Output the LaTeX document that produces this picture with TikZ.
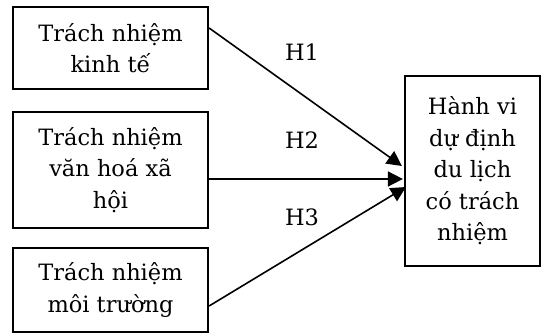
\documentclass[tikz,border=0pt]{standalone}
\usepackage{fontspec}
\setmainfont{DejaVu Serif}
\usetikzlibrary{arrows.meta}
\tikzset{
  box/.style={draw, line width=2.2pt, align=center, inner sep=0pt,
    font=\fontsize{22.5}{31.5}\selectfont},
  link/.style={line width=1.6pt, -{Triangle[length=15pt,width=15pt]}},
  hlabel/.style={font=\fontsize{22.5}{27}\selectfont, inner sep=0pt}
}
\begin{document}
\begin{tikzpicture}[x=1pt,y=-1pt]
  \useasboundingbox (0,0) rectangle (541,334);
  % independent constructs
  \node[box, minimum width=195pt, minimum height=82pt] (eco) at (110.5,48) {Trách nhiệm\\kinh tế};
  \node[box, minimum width=195pt, minimum height=116pt] (soc) at (110.5,170) {Trách nhiệm\\văn hoá xã\\hội};
  \node[box, minimum width=195pt, minimum height=84pt] (env) at (110.5,290) {Trách nhiệm\\môi trường};
  % dependent construct
  \node[box, minimum width=135pt, minimum height=190pt] (beh) at (472.5,171)
    {Hành vi\\dự định\\du lịch\\có trách\\nhiệm};
  % hypotheses
  \draw[link] ([yshift=20pt]eco.east) -- ([yshift=5pt,xshift=-2pt]beh.west);
  \draw[link] ([yshift=-9pt]soc.east) -- ([yshift=-8pt,xshift=-1pt]beh.west);
  \draw[link] ([yshift=-16pt]env.east) -- ([yshift=-16pt,xshift=2pt]beh.west);
  \node[hlabel] (h1) at (302,52) {H1};
  \node[hlabel] (h2) at (302,140) {H2};
  \node[hlabel] (h3) at (302,217) {H3};
\end{tikzpicture}
\end{document}
